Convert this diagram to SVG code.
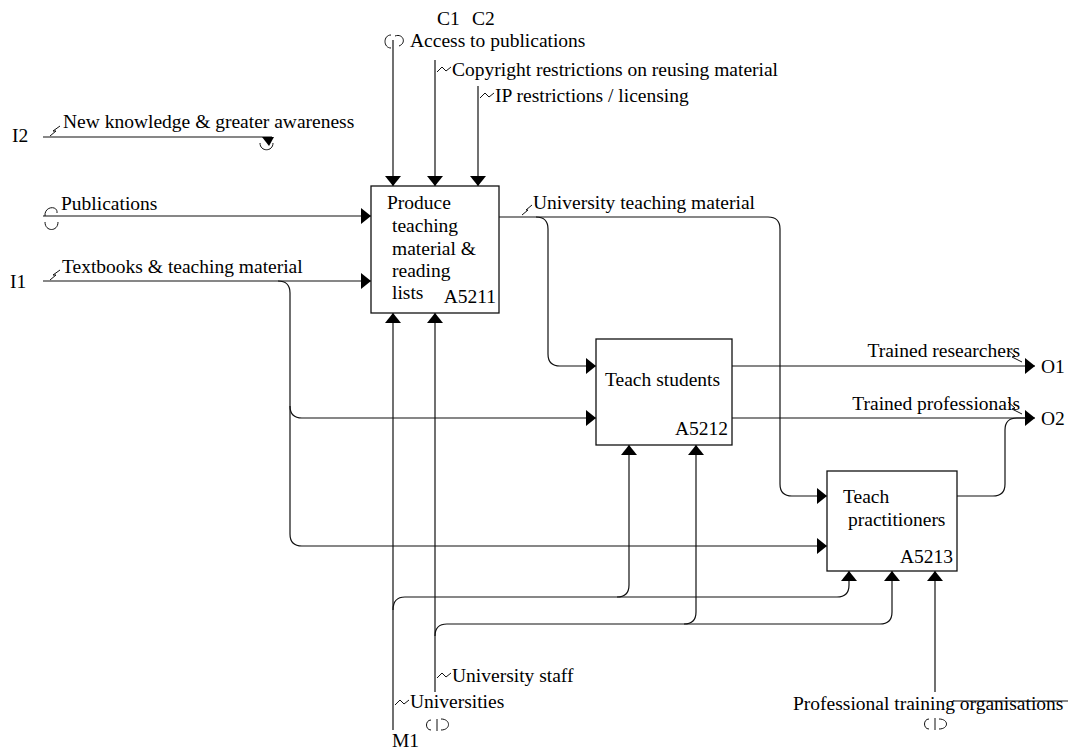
<svg xmlns="http://www.w3.org/2000/svg" width="1074" height="753" viewBox="0 0 1074 753">
<style>
text{font-family:"Liberation Serif","Times New Roman",serif;font-size:19.5px;fill:#000}
.c{fill:none;stroke:#111;stroke-width:1.2}
.sq{fill:none;stroke:#111;stroke-width:1}
.box{fill:#fff;stroke:#111;stroke-width:1.3}
.end{text-anchor:end}
</style>
<defs>
<marker id="ah" markerUnits="userSpaceOnUse" markerWidth="10" markerHeight="16" viewBox="0 0 10 16" refX="10" refY="8" orient="auto">
<path d="M0,0 L10,8 L0,16 z" fill="#000"/>
</marker>
</defs>
<rect width="1074" height="753" fill="#fff"/>
<g id="connectors">
<path class="c" d="M43,137 H272"/>
<path d="M262,137 L274,137 L269,146 z" fill="#000"/>
<path class="sq" d="M260,143 C260,152 273,152 273,143"/>
<path class="c" d="M43,216 H371" marker-end="url(#ah)"/>
<path class="sq" d="M45,216 C44,206 58,205 57,213"/>
<path class="sq" d="M45,222 C45,232 58,232 58,222"/>
<path class="c" d="M43,281 H371" marker-end="url(#ah)"/>
<path class="c" d="M278,281 Q290,281 290,293 V406 Q290,418 302,418 H596" marker-end="url(#ah)"/>
<path class="c" d="M290,406 V534 Q290,546 302,546 H827" marker-end="url(#ah)"/>
<path class="c" d="M393,40 V186" marker-end="url(#ah)"/>
<path class="sq" d="M391,35 C383,35 383,48 391,48"/>
<path class="sq" d="M395,36 C403,33 407,43 399,46"/>
<path class="c" d="M435,60 V186" marker-end="url(#ah)"/>
<path class="c" d="M478,86 V186" marker-end="url(#ah)"/>
<path class="c" d="M499,217 H768 Q780,217 780,229 V484 Q780,496 792,496 H827" marker-end="url(#ah)"/>
<path class="c" d="M536,217 Q548,217 548,229 V354 Q548,366 560,366 H596" marker-end="url(#ah)"/>
<path class="c" d="M732,366 H1035" marker-end="url(#ah)"/>
<path class="c" d="M732,418 H1035" marker-end="url(#ah)"/>
<path class="c" d="M957,496 H993 Q1005,496 1005,484 V430 Q1005,418 1017,418 H1026"/>
<path class="c" d="M393,730 V313" marker-end="url(#ah)"/>
<path class="c" d="M393,610 Q393,597 405,597 H837 Q849,597 849,585 V571" marker-end="url(#ah)"/>
<path class="c" d="M617,597 Q629,597 629,585 V445" marker-end="url(#ah)"/>
<path class="c" d="M435,692 V313" marker-end="url(#ah)"/>
<path class="c" d="M435,636 Q435,624 447,624 H880 Q892,624 892,612 V571" marker-end="url(#ah)"/>
<path class="c" d="M684,624 Q696,624 696,612 V445" marker-end="url(#ah)"/>
<path class="c" d="M935,692 V571" marker-end="url(#ah)"/>
<path class="c" d="M953,701 H1068"/>
<path class="sq" d="M431,720 C425,720 425,730 431,730"/>
<path class="sq" d="M437,719 V731"/>
<path class="sq" d="M441,719 C451,719 451,730 441,730"/>
<path class="sq" d="M929,719 C923,719 923,729 929,729"/>
<path class="sq" d="M935,718 V730"/>
<path class="sq" d="M939,719 C949,719 949,729 939,729"/>
<g id="squiggles">
<path class="sq" d="M50,136 L56,131 L53,131 L60,126"/>
<path class="sq" d="M50,280 L56,275 L53,275 L60,270"/>
<path class="sq" d="M522,215 L528,210 L526,210 L532,205"/>
<path class="sq" d="M437,72 L442,67 L446,71 L451,67"/>
<path class="sq" d="M480,98 L485,93 L489,97 L494,93"/>
<path class="sq" d="M395,705 L400,700 L404,704 L409,700"/>
<path class="sq" d="M437,678 L442,673 L446,677 L451,673"/>
<path class="sq" d="M1008,350 L1015,356 L1012,357 L1022,362"/>
<path class="sq" d="M1008,402 L1015,408 L1012,409 L1022,414"/>
</g>
</g>
<g id="A5211">
<rect class="box" x="371" y="186" width="128" height="127"/>
<text x="387" y="209">Produce</text>
<text x="392" y="232">teaching</text>
<text x="392" y="255">material &amp;</text>
<text x="392" y="277">reading</text>
<text x="392" y="299">lists</text>
<text class="end" x="496" y="303">A5211</text>
</g>
<g id="A5212">
<rect class="box" x="596" y="339" width="136" height="106"/>
<text x="605" y="386">Teach students</text>
<text class="end" x="728" y="435">A5212</text>
</g>
<g id="A5213">
<rect class="box" x="827" y="471" width="130" height="100"/>
<text x="843" y="503">Teach</text>
<text x="848" y="526">practitioners</text>
<text class="end" x="953" y="563">A5213</text>
</g>
<g id="labels">
<text x="437" y="25">C1</text>
<text x="472" y="25">C2</text>
<text x="410" y="47">Access to publications</text>
<text x="452" y="76">Copyright restrictions on reusing material</text>
<text x="495" y="102">IP restrictions / licensing</text>
<text x="12" y="142">I2</text>
<text x="63" y="128">New knowledge &amp; greater awareness</text>
<text x="61" y="210">Publications</text>
<text x="10" y="288">I1</text>
<text x="62" y="273">Textbooks &amp; teaching material</text>
<text x="533" y="209">University teaching material</text>
<text class="end" x="1020" y="357">Trained researchers</text>
<text class="end" x="1020" y="410">Trained professionals</text>
<text x="1041" y="373">O1</text>
<text x="1041" y="425">O2</text>
<text x="452" y="682">University staff</text>
<text x="410" y="708">Universities</text>
<text x="392" y="747">M1</text>
<text x="793" y="710">Professional training organisations</text>
</g>
</svg>
